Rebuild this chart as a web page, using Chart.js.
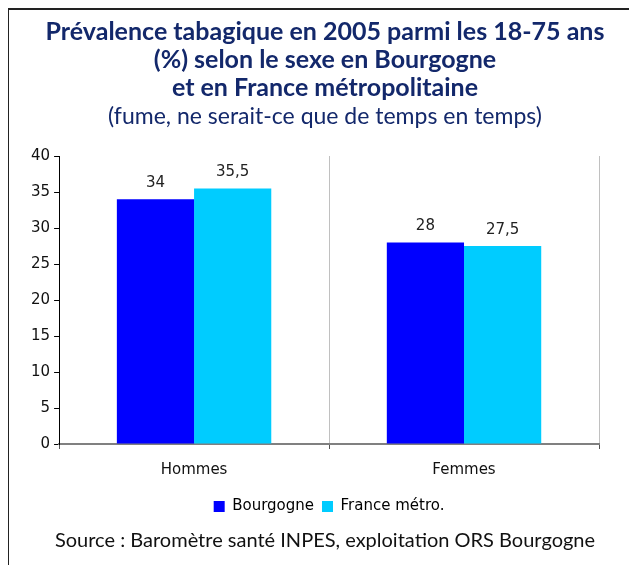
<!DOCTYPE html>
<html>
<head>
<meta charset="utf-8">
<script src="https://cdn.jsdelivr.net/npm/chart.js@4/dist/chart.umd.min.js"></script>
<style>
  html, body { margin: 0; padding: 0; background: #fff; }
  #wrap { position: relative; width: 629px; height: 565px; overflow: hidden; }
  #frame { position: absolute; left: 8px; top: 8px; right: -2px; bottom: -2px;
           border-left: 1px solid #222; border-top: 2px solid #222; }
  #chart { position: absolute; left: 0; top: 0; }
  .txt { position: absolute; left: 0; width: 650px; text-align: center; font-family: Lato, sans-serif; }
  #title { top: 16px; font-size: 25px; font-weight: bold; line-height: 28px; color: #13286b; }
  #subtitle { top: 101px; font-size: 23px; line-height: 28px; color: #13286b; }
  #source { top: 527px; font-size: 20px; color: #111; }
</style>
</head>
<body>
<div id="wrap">
  <div id="frame"></div>
  <canvas id="chart" width="629" height="565"></canvas>
  <div id="title" class="txt"></div>
  <div id="subtitle" class="txt"></div>
  <div id="source" class="txt">Source : Baromètre santé INPES, exploitation ORS Bourgogne</div>
</div>
<script>
let sexe_labels = ["Hommes", "Femmes"];
let serie_names = ["Bourgogne", "France métro."];
let bourgogne_data = [34, 28];
let france_data = [35.5, 27.5];
let y_ticks = [0, 5, 10, 15, 20, 25, 30, 35, 40];

let title_lines = ["Prévalence tabagique en 2005 parmi les 18-75 ans",
    "(%) selon le sexe en Bourgogne",
    "et en France métropolitaine"];
let subtitle_text = "(fume, ne serait-ce que de temps en temps)";

document.getElementById("title").innerHTML = title_lines.join("<br>");
document.getElementById("subtitle").textContent = subtitle_text;

// etiquettes de valeur au-dessus des barres
const valueLabels = {
    id: "valueLabels",
    afterDatasetsDraw(chart) {
        let ctx = chart.ctx;
        ctx.save();
        ctx.font = "15px 'DejaVu Sans'";
        ctx.fillStyle = "#222";
        ctx.textAlign = "center";
        ctx.textBaseline = "middle";
        chart.data.datasets.forEach((ds, i) => {
            chart.getDatasetMeta(i).data.forEach((bar, j) => {
                let txt = String(ds.data[j]).replace(".", ",");
                ctx.fillText(txt, bar.x, bar.y - 16);
            });
        });
        ctx.restore();
    }
};

let axisFont = { family: "'DejaVu Sans'", size: 15 };

new Chart(document.getElementById("chart").getContext("2d"), {
    type: "bar",
    data: {
        labels: sexe_labels,
        datasets: [{
            label: serie_names[0],
            backgroundColor: "#0000FF",
            data: bourgogne_data,
            categoryPercentage: 0.572,
            barPercentage: 1
        },
        {
            label: serie_names[1],
            backgroundColor: "#00CCFF",
            data: france_data,
            categoryPercentage: 0.572,
            barPercentage: 1
        }]
    },
    options: {
        responsive: false,
        animation: false,
        layout: { padding: { left: 27, right: 30, top: 156, bottom: 41 } },
        plugins: {
            title: { display: false },
            legend: {
                position: "bottom",
                fullSize: false,
                labels: {
                    boxWidth: 11,
                    boxHeight: 11,
                    color: "#000",
                    font: axisFont,
                    padding: 8
                }
            },
            tooltip: { enabled: false }
        },
        scales: {
            x: {
                grid: {
                    offset: true,
                    color: "#c0c0c0",
                    tickColor: "#555",
                    tickLength: 5
                },
                border: { color: "#808080", width: 2 },
                ticks: { color: "#111", font: axisFont, padding: 12 }
            },
            y: {
                min: 0,
                max: 40,
                afterBuildTicks: (scale) => { scale.ticks = y_ticks.map(v => ({ value: v })); },
                grid: { drawOnChartArea: false, tickLength: 5, tickColor: "#000" },
                border: { color: "#000" },
                ticks: { color: "#111", font: axisFont, padding: 4 }
            }
        }
    },
    plugins: [valueLabels]
});
</script>
</body>
</html>
